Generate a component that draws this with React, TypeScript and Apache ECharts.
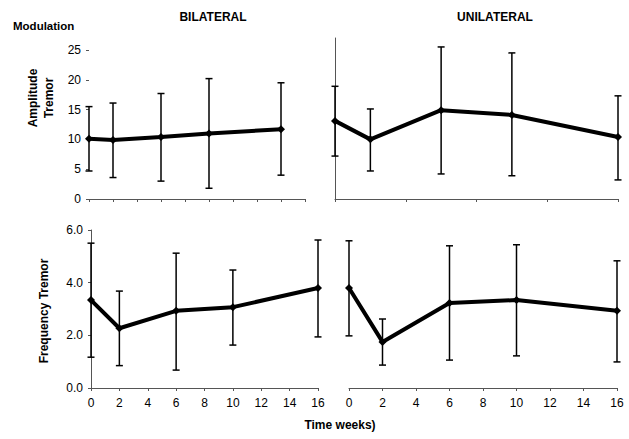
import React, { useEffect, useRef } from "react";
import * as echarts from "echarts";

const weeks = [0, 2, 6, 10, 16];
const xTickLabels = ["0", "2", "4", "6", "8", "10", "12", "14", "16"];

const ampBilMean = [10.1, 9.9, 10.4, 11.0, 11.7];
const ampBilLow = [4.7, 3.6, 3.0, 1.8, 4.0];
const ampBilHigh = [15.5, 16.1, 17.7, 20.2, 19.5];

const ampUniMean = [13.1, 10.0, 14.9, 14.1, 10.4];
const ampUniLow = [7.2, 4.7, 4.2, 3.9, 3.2];
const ampUniHigh = [18.9, 15.1, 25.5, 24.5, 17.3];

const freqBilMean = [3.34, 2.27, 2.93, 3.07, 3.8];
const freqBilLow = [1.17, 0.85, 0.68, 1.63, 1.94];
const freqBilHigh = [5.5, 3.68, 5.12, 4.48, 5.62];

const freqUniMean = [3.8, 1.75, 3.23, 3.34, 2.93];
const freqUniLow = [1.98, 0.87, 1.06, 1.22, 0.99];
const freqUniHigh = [5.59, 2.62, 5.4, 5.44, 4.83];

const FONT = "'Liberation Sans', Arial, sans-serif";
const AXIS_COLOR = "#555";

function errRender(params: any, api: any) {
  const x = api.value(0);
  const lo = api.coord([x, api.value(1)]);
  const hi = api.coord([x, api.value(2)]);
  const w = 3.5;
  const style = { stroke: "#000", lineWidth: 1.5 };
  return {
    type: "group",
    children: [
      { type: "line", shape: { x1: lo[0], y1: lo[1], x2: hi[0], y2: hi[1] }, style },
      { type: "line", shape: { x1: lo[0] - w, y1: lo[1], x2: lo[0] + w, y2: lo[1] }, style },
      { type: "line", shape: { x1: hi[0] - w, y1: hi[1], x2: hi[0] + w, y2: hi[1] }, style },
    ],
  };
}

function panelSeries(idx: number, mean: number[], low: number[], high: number[]) {
  return [
    {
      type: "custom",
      xAxisIndex: idx,
      yAxisIndex: idx,
      renderItem: errRender,
      encode: { x: 0, y: [1, 2] },
      data: weeks.map((w, i) => [w, low[i], high[i]]),
      z: 2,
      silent: true,
    },
    {
      type: "line",
      xAxisIndex: idx,
      yAxisIndex: idx,
      data: weeks.map((w, i) => [w, mean[i]]),
      symbol: "diamond",
      symbolSize: 8,
      itemStyle: { color: "#000" },
      lineStyle: { color: "#000", width: 4 },
      z: 3,
      silent: true,
    },
  ];
}

export default function App() {
  const ref = useRef<HTMLDivElement>(null);
  useEffect(() => {
    if (!ref.current) return;
    const chart = echarts.init(ref.current, null, { renderer: "svg", width: 629, height: 439 });
    const labelStyle = { color: "#000", fontSize: 12, fontFamily: FONT };
    const option: any = {
      animation: false,
      backgroundColor: "#fff",
      textStyle: { fontFamily: FONT },
      grid: [
        { left: 89, top: 50, width: 216, height: 149 },
        { left: 335, top: 38, width: 283, height: 161 },
        { left: 91, top: 230, width: 227, height: 158 },
        { left: 349, top: 230, width: 268, height: 158 },
      ],
      xAxis: [
        {
          gridIndex: 0, type: "value", min: 0, max: 18, interval: 2,
          axisLine: { show: true, lineStyle: { color: AXIS_COLOR, width: 1 } },
          axisTick: { show: true, length: 3, lineStyle: { color: AXIS_COLOR } },
          axisLabel: { show: false }, splitLine: { show: false },
        },
        {
          gridIndex: 1, type: "value", min: 0, max: 16, interval: 4,
          axisLine: { show: true, lineStyle: { color: AXIS_COLOR, width: 1 } },
          axisTick: { show: true, length: 3, lineStyle: { color: AXIS_COLOR } },
          axisLabel: { show: false }, splitLine: { show: false },
        },
        {
          gridIndex: 2, type: "value", min: 0, max: 16, interval: 2,
          axisLine: { show: true, lineStyle: { color: AXIS_COLOR, width: 1 } },
          axisTick: { show: true, length: 3, lineStyle: { color: AXIS_COLOR } },
          axisLabel: { ...labelStyle, margin: 9, formatter: (v: number) => xTickLabels[v / 2] ?? "" },
          splitLine: { show: false },
        },
        {
          gridIndex: 3, type: "value", min: 0, max: 16, interval: 2,
          axisLine: { show: true, lineStyle: { color: AXIS_COLOR, width: 1 } },
          axisTick: { show: true, length: 3, lineStyle: { color: AXIS_COLOR } },
          axisLabel: { ...labelStyle, margin: 9, formatter: (v: number) => xTickLabels[v / 2] ?? "" },
          splitLine: { show: false },
        },
      ],
      yAxis: [
        {
          gridIndex: 0, type: "value", min: 0, max: 25, interval: 5,
          axisLine: { show: false },
          axisTick: { show: true, length: 3, lineStyle: { color: AXIS_COLOR } },
          axisLabel: { ...labelStyle, margin: 8 },
          splitLine: { show: false },
        },
        {
          gridIndex: 1, type: "value", min: 0, max: 27, interval: 27,
          axisLine: { show: true, lineStyle: { color: AXIS_COLOR, width: 1 } },
          axisTick: { show: false },
          axisLabel: { show: false },
          splitLine: { show: false },
        },
        {
          gridIndex: 2, type: "value", min: 0, max: 6, interval: 2,
          axisLine: { show: true, lineStyle: { color: AXIS_COLOR, width: 1 } },
          axisTick: { show: true, length: 3, lineStyle: { color: AXIS_COLOR } },
          axisLabel: { ...labelStyle, margin: 8, formatter: (v: number) => v.toFixed(1) },
          splitLine: { show: false },
        },
        {
          gridIndex: 3, type: "value", min: 0, max: 6, interval: 2,
          axisLine: { show: false },
          axisTick: { show: false },
          axisLabel: { show: false },
          splitLine: { show: false },
        },
      ],
      series: [
        ...panelSeries(0, ampBilMean, ampBilLow, ampBilHigh),
        ...panelSeries(1, ampUniMean, ampUniLow, ampUniHigh),
        ...panelSeries(2, freqBilMean, freqBilLow, freqBilHigh),
        ...panelSeries(3, freqUniMean, freqUniLow, freqUniHigh),
      ],
      graphic: [
        {
          type: "text", left: 13, top: 20,
          style: { text: "Modulation", fill: "#000", font: `bold 11.5px ${FONT}` },
        },
        {
          type: "text", x: 213, y: 17,
          style: { text: "BILATERAL", fill: "#000", font: `bold 12px ${FONT}`, align: "center", verticalAlign: "middle" },
        },
        {
          type: "text", x: 495, y: 17,
          style: { text: "UNILATERAL", fill: "#000", font: `bold 12px ${FONT}`, align: "center", verticalAlign: "middle" },
        },
        {
          type: "text", x: 41, y: 98, rotation: Math.PI / 2,
          style: {
            text: "Amplitude\nTremor", fill: "#000", font: `bold 12px ${FONT}`,
            align: "center", verticalAlign: "middle", lineHeight: 16,
          },
        },
        {
          type: "text", x: 44, y: 311, rotation: Math.PI / 2,
          style: { text: "Frequency Tremor", fill: "#000", font: `bold 12px ${FONT}`, align: "center", verticalAlign: "middle" },
        },
        {
          type: "text", x: 340, y: 425,
          style: { text: "Time weeks)", fill: "#000", font: `bold 12px ${FONT}`, align: "center", verticalAlign: "middle" },
        },
      ],
    };
    chart.setOption(option);
    return () => chart.dispose();
  }, []);
  return (
    <div
      ref={ref}
      style={{ position: "fixed", left: 0, top: 0, width: 629, height: 439, background: "#fff" }}
    />
  );
}
